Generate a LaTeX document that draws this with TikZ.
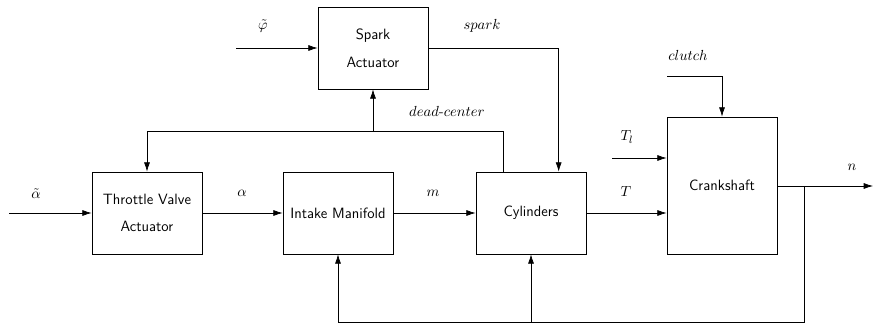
\documentclass[tikz,border=0pt]{standalone}
\usetikzlibrary{arrows.meta,calc}
\begin{document}
\begin{tikzpicture}[x=0.75pt,y=-0.75pt, line width=0.5pt,
  >={Latex[length=7pt,width=4.5pt]},
  every node/.style={font=\fontsize{11.2pt}{13pt}\selectfont},
  blk/.style={draw, inner sep=0pt, minimum width=82.5pt, minimum height=61.5pt, font=\fontsize{11.2pt}{13pt}\selectfont\sffamily, align=center},
  lbl/.style={inner sep=0pt}]
\useasboundingbox (0,0) rectangle (873,327);
% blocks
\node[blk] (spark) at (373,48) {Spark\\[8pt]Actuator};
\node[blk] (tva) at (147,213) {Throttle Valve\\[7pt]Actuator};
\node[blk] (im) at (338,213) {Intake Manifold};
\node[blk] (cyl) at (531,213) {Cylinders};
\node[blk, minimum height=102.75pt] (cs) at (722,185.5) {Crankshaft};
% helper coordinates
\coordinate (ain) at (9,213);
\coordinate (phin) at (236,48);
\coordinate (clin) at (667,76);
\coordinate (tlin) at (612,158);
\coordinate (nout) at (873,186);
\coordinate (tap) at (804,186);
\coordinate (dcy) at (0,131);
\coordinate (bot) at (0,322);
\coordinate (dcA) at ($(cyl.north west)!0.25!(cyl.north east)$);
\coordinate (spB) at ($(cyl.north west)!0.75!(cyl.north east)$);
% labels
\node[lbl] (la) at (36,194) {$\tilde\alpha$};
\node[lbl] (lal) at (242,193) {$\alpha$};
\node[lbl] (lm) at (433,193) {$m$};
\node[lbl] (lT) at (626,192) {$T$};
\node[lbl] (lTl) at (627,137) {$T_l$};
\node[lbl] (ln) at (852,167) {$n$};
\node[lbl] (lphi) at (263,26) {$\tilde\varphi$};
\node[lbl] (lsp) at (482,26) {$spark$};
\node[lbl] (lcl) at (688,55) {$clutch$};
\node[lbl] (ldc) at (447,111) {$dead\mbox{-}center$};
% connectors
\draw[->] (ain) -- (tva.west);
\draw[->] (tva.east) -- (im.west);
\draw[->] (im.east) -- (cyl.west);
\draw[->] (cyl.east) -- (cyl.east -| cs.west);
\draw[->] (tlin) -- (tlin -| cs.west);
\draw[->] (clin) -| (cs.north);
\draw[->] (cs.east |- nout) -- (nout);
\draw[->] (phin) -- (spark.west);
\draw[->] (spark.east) -| (spB);
\draw[->] (dcA) |- (dcy -| tva.north) -- (tva.north);
\draw[->] (dcy -| spark.south) -- (spark.south);
\draw[->] (tap) |- (bot -| im.south) -- (im.south);
\draw[->] (bot -| cyl.south) -- (cyl.south);
\end{tikzpicture}
\end{document}
